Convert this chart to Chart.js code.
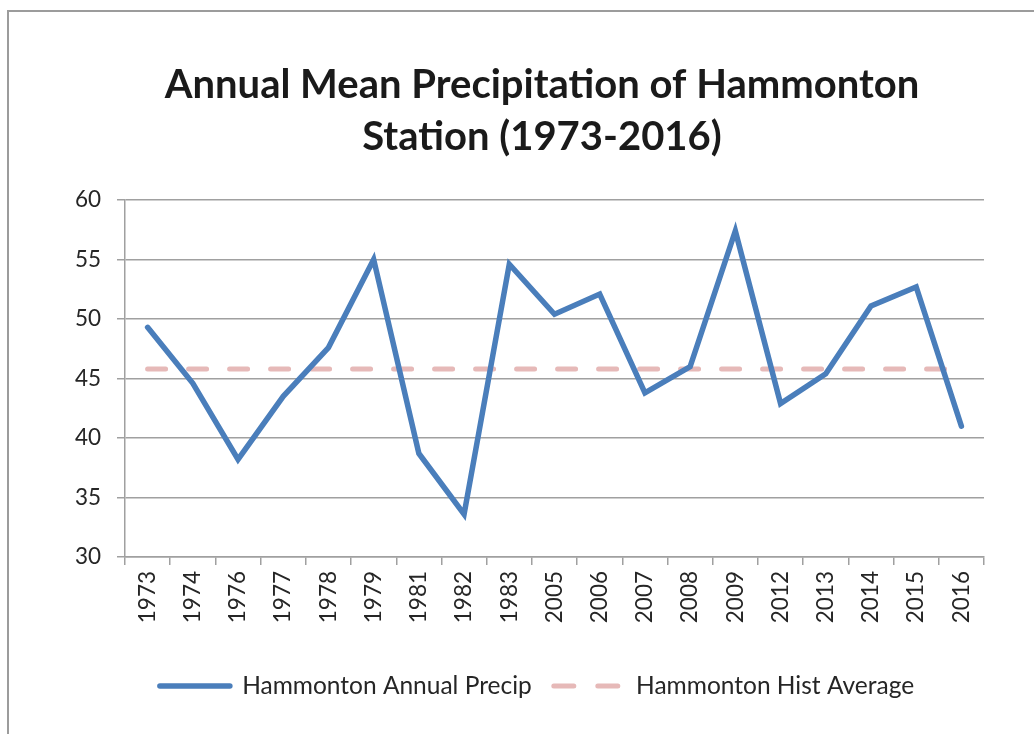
<!DOCTYPE html>
<html>
<head>
<meta charset="utf-8">
<title>Annual Mean Precipitation of Hammonton Station</title>
<script src="https://cdn.jsdelivr.net/npm/chart.js@4/dist/chart.umd.min.js"></script>
<style>
  html, body { margin: 0; padding: 0; background: #fff; }
  #wrap { width: 1034px; height: 734px; position: relative; }
</style>
</head>
<body>
<div id="wrap"><canvas id="precipChart" width="1034" height="734"></canvas></div>
<script>
  const years = ["1973", "1974", "1976", "1977", "1978", "1979", "1981", "1982", "1983",
    "2005", "2006", "2007", "2008", "2009", "2012", "2013", "2014", "2015", "2016"];
  const annualPrecip = [49.3, 44.6, 38.2, 43.5, 47.6, 55.0, 38.7, 33.6, 54.6,
    50.4, 52.1, 43.8, 46.0, 57.4, 42.9, 45.4, 51.1, 52.7, 41.0];
  const histAverage = [45.8, 45.8, 45.8, 45.8, 45.8, 45.8, 45.8, 45.8, 45.8,
    45.8, 45.8, 45.8, 45.8, 45.8, 45.8, 45.8, 45.8, 45.8, 45.8];
  const yTicks = { min: 30, max: 60, step: 5 };

  const FONT = "Lato, 'Open Sans', sans-serif";
  const GRID = "#a0a0a0";
  const TEXT = "#262626";

  // outer chart frame (only left + top edges visible in the crop)
  const framePlugin = {
    id: "frame",
    afterLayout(chart) {
      // title and legend sit a bit right of the canvas centre in the original
      const nudge = (box, dx) => { if (box) { box.left += dx; box.right += dx; } };
      nudge(chart.titleBlock, 50);
      nudge(chart.legend, 45);
    },
    afterDraw(chart) {
      const ctx = chart.ctx;
      ctx.save();
      ctx.strokeStyle = "#9c9c9c";
      ctx.lineWidth = 2;
      ctx.beginPath();
      ctx.moveTo(8, 734);
      ctx.lineTo(8, 11);
      ctx.lineTo(1034, 11);
      ctx.stroke();
      ctx.restore();
    },
  };

  new Chart(document.getElementById("precipChart"), {
    type: "line",
    data: {
      labels: years,
      datasets: [
        {
          label: "Hammonton Annual Precip",
          data: annualPrecip,
          borderColor: "#4a7ebb",
          backgroundColor: "#4a7ebb",
          borderWidth: 5.5,
          borderCapStyle: "round",
          pointRadius: 0,
          tension: 0,
          order: 1,
        },
        {
          label: "Hammonton Hist Average",
          data: histAverage,
          borderColor: "#e6b9b8",
          backgroundColor: "#e6b9b8",
          borderWidth: 5,
          borderDash: [18, 23],
          borderCapStyle: "round",
          pointRadius: 0,
          tension: 0,
          order: 2,
        },
      ],
    },
    options: {
      responsive: false,
      animation: false,
      layout: { padding: { left: 0, right: 50, top: 0, bottom: 25.75 } },
      scales: {
        x: {
          offset: true,
          grid: { offset: true, drawOnChartArea: false, drawTicks: true, tickLength: 8, color: GRID, lineWidth: 1.5 },
          border: { color: GRID, width: 1.5 },
          ticks: { color: TEXT, font: { family: FONT, size: 22.5 }, minRotation: 90, maxRotation: 90, padding: 6, autoSkip: false },
          afterFit(scale) { scale.height = 94.75; },
        },
        y: {
          min: yTicks.min,
          max: yTicks.max,
          grid: { color: GRID, lineWidth: 1.5, tickLength: 8 },
          border: { color: GRID, width: 1.5 },
          ticks: { stepSize: yTicks.step, color: TEXT, font: { family: FONT, size: 22.5 }, padding: 16 },
          afterFit(scale) { scale.width = 125; },
        },
      },
      plugins: {
        title: {
          display: true,
          text: ["Annual Mean Precipitation of Hammonton", "Station (1973-2016)"],
          color: "#1a1a1a",
          font: { family: FONT, size: 40, weight: "bold", lineHeight: 1.3 },
          padding: { top: 59, bottom: 37 },
        },
        legend: {
          position: "bottom",
          labels: {
            color: TEXT,
            font: { family: FONT, size: 24.5 },
            usePointStyle: true,
            pointStyle: "line",
            pointStyleWidth: 70,
            padding: 22,
            generateLabels(chart) {
              const items = Chart.defaults.plugins.legend.labels.generateLabels(chart);
              items.forEach((it, i) => {
                it.pointStyle = "line";
                it.lineCap = "round";
                if (i === 1) it.lineDash = [20, 24];
              });
              return items;
            },
          },
        },
        tooltip: { enabled: false },
      },
    },
    plugins: [framePlugin],
  });
</script>
</body>
</html>
